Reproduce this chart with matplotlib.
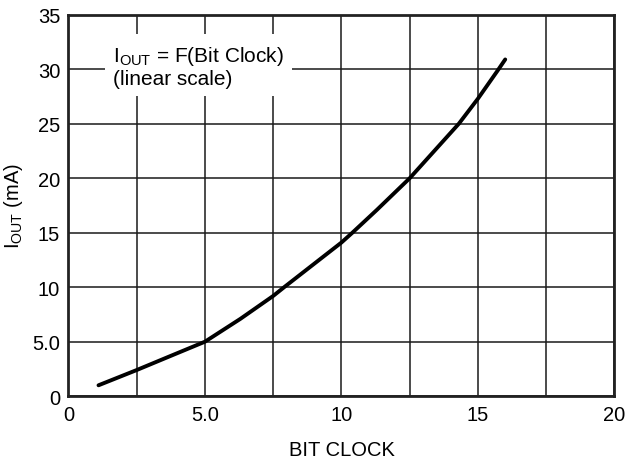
import matplotlib
matplotlib.use("Agg")
import matplotlib.pyplot as plt

bit_clock = [1.1, 2.5, 3.7, 5.0, 6.3, 7.5, 7.9, 10.0, 10.4, 11.3, 12.5, 13.4, 14.3, 15.0, 15.7, 16.0]
i_out = [1.0, 2.4, 3.65, 5.0, 7.1, 9.2, 10.0, 14.1, 15.0, 17.1, 20.0, 22.5, 25.0, 27.3, 29.8, 30.9]
x_ticks = [0, 5, 10, 15, 20]
x_tick_labels = ["0", "5.0", "10", "15", "20"]
x_minor = [2.5, 7.5, 12.5, 17.5]
y_ticks = [0, 5, 10, 15, 20, 25, 30, 35]
y_tick_labels = ["0", "5.0", "10", "15", "20", "25", "30", "35"]

plt.rcParams['font.family'] = ['Liberation Sans', 'DejaVu Sans']
fs = 14.5

fig = plt.figure(figsize=(6.4, 4.64), dpi=100)
ax = fig.add_axes([0.107, 0.144, 0.853, 0.822])

ax.plot(bit_clock, i_out, color='black', lw=2.8, solid_capstyle='round',
        solid_joinstyle='round', zorder=3)

ax.set_xlim(0, 20)
ax.set_ylim(0, 35)
ax.set_xticks(x_ticks)
ax.set_xticklabels(x_tick_labels)
ax.set_xticks(x_minor, minor=True)
ax.set_yticks(y_ticks)
ax.set_yticklabels(y_tick_labels)
ax.grid(True, which='both', color='#1a1a1a', lw=1.1)
ax.tick_params(which='both', length=0, labelsize=fs, pad=6, colors='black')
for s in ax.spines.values():
    s.set_linewidth(2.0)
    s.set_color('#222222')

ax.set_xlabel("BIT CLOCK", fontsize=fs, labelpad=12)
ax.set_ylabel(r"I$_\mathregular{OUT}$ (mA)", fontsize=fs, labelpad=5)

ax.text(1.63, 32.3, "I$_\\mathregular{OUT}$ = F(Bit Clock)\n(linear scale)", fontsize=15,
        va='top', ha='left', linespacing=1.1, zorder=4,
        bbox=dict(boxstyle='square,pad=0.4', fc='white', ec='none'))

fig.savefig("out.png", dpi=100)
